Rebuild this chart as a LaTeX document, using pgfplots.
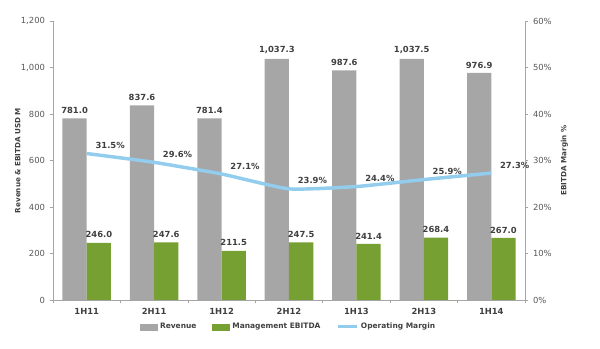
\documentclass[border=0pt]{standalone}
\usepackage{fontspec}
\setmainfont{DejaVu Sans}
\usepackage{pgfplots}
\pgfplotsset{compat=1.18}
\definecolor{rev}{RGB}{166,166,166}
\definecolor{ebit}{RGB}{119,160,50}
\definecolor{marg}{RGB}{146,205,238}
\definecolor{axgray}{RGB}{165,165,165}
\definecolor{txt}{RGB}{64,64,64}
\definecolor{ticktxt}{RGB}{89,89,89}
\pgfplotsset{
  common/.style={
    scale only axis, width=354pt, height=209.25pt,
    xmin=-0.5, xmax=6.5,
    tick align=outside, major tick length=2.5pt,
    every tick/.style={draw=axgray},
    axis line style={draw=axgray, line width=0.6pt},
    tick label style={font=\fontsize{6.3}{7}\selectfont, text=ticktxt},
    /pgf/number format/assume math mode=true,
    label style={font=\bfseries\fontsize{5.4}{6}\selectfont, text=txt},
  }
}
\begin{document}
\begin{tikzpicture}
\path[use as bounding box] (-39.75pt,-36.75pt) rectangle (410.25pt,225pt);
\begin{axis}[common,
  ymin=0, ymax=1200,
  axis x line*=bottom, axis y line*=left,
  ytick={0,200,400,600,800,1000,1200},
  yticklabel style={/pgf/number format/.cd, fixed, 1000 sep={,}},
  xtick={-0.5,0.5,1.5,2.5,3.5,4.5,5.5,6.5},
  x tick label as interval,
  xticklabels={1H11,2H11,1H12,2H12,1H13,2H13,1H14},
  x tick label style={font=\bfseries\fontsize{6.3}{7}\selectfont, text=txt},
  ylabel={Revenue \& EBITDA USD M},
  ylabel style={yshift=-6.5pt},
]
\addplot[ybar, bar width=0.36, bar shift=-0.18, fill=rev, draw=none, nodes near coords,
  nodes near coords style={xshift=-9.1pt, font=\bfseries\fontsize{6.3}{7}\selectfont, text=txt,
    /pgf/number format/.cd, fixed, fixed zerofill, precision=1, 1000 sep={,}, assume math mode=true}]
  coordinates {(0,781.0) (1,837.6) (2,781.4) (3,1037.3) (4,987.6) (5,1037.5) (6,976.9)};
\addplot[ybar, bar width=0.36, bar shift=0.18, fill=ebit, draw=none, nodes near coords,
  nodes near coords style={xshift=9.1pt, font=\bfseries\fontsize{6.3}{7}\selectfont, text=txt,
    /pgf/number format/.cd, fixed, fixed zerofill, precision=1, 1000 sep={,}, assume math mode=true}]
  coordinates {(0,246.0) (1,247.6) (2,211.5) (3,247.5) (4,241.4) (5,268.4) (6,267.0)};
\end{axis}
\begin{axis}[common,
  ymin=0, ymax=60,
  axis y line*=right, axis x line=none,
  ytick={0,10,20,30,40,50,60},
  yticklabel={\pgfmathprintnumber{\tick}\%},
  ylabel={EBITDA Margin \%},
  ylabel style={yshift=0pt},
  legend style={at={(0.5,-0.072)}, anchor=north, draw=none, fill=none,
    font=\bfseries\fontsize{5.6}{6.5}\selectfont, text=txt,
    legend columns=3, inner sep=0pt,
    /tikz/every even column/.append style={column sep=10pt}},
  legend cell align=left,
]
\addlegendimage{legend image code/.code={\fill[rev] (0pt,-2.3pt) rectangle (12.5pt,2.3pt);}}
\addlegendentry{Revenue}
\addlegendimage{legend image code/.code={\fill[ebit] (0pt,-2.3pt) rectangle (12.5pt,2.3pt);}}
\addlegendentry{Management EBITDA}
\addlegendimage{legend image code/.code={\draw[marg, line width=2.3pt] (0pt,0pt) -- (14pt,0pt);}}
\addlegendentry{Operating Margin}
\addplot[forget plot, marg, line width=2.6pt, smooth, tension=0.3, mark=none,
  nodes near coords={\pgfmathprintnumber{\pgfplotspointmeta}\%},
  nodes near coords style={anchor=south west, xshift=2pt, yshift=-1pt,
    font=\bfseries\fontsize{6.3}{7}\selectfont, text=txt,
    /pgf/number format/.cd, fixed, fixed zerofill, precision=1, assume math mode=true}]
  coordinates {(0,31.5) (1,29.6) (2,27.1) (3,23.9) (4,24.4) (5,25.9) (6,27.3)};
\end{axis}
\end{tikzpicture}
\end{document}
